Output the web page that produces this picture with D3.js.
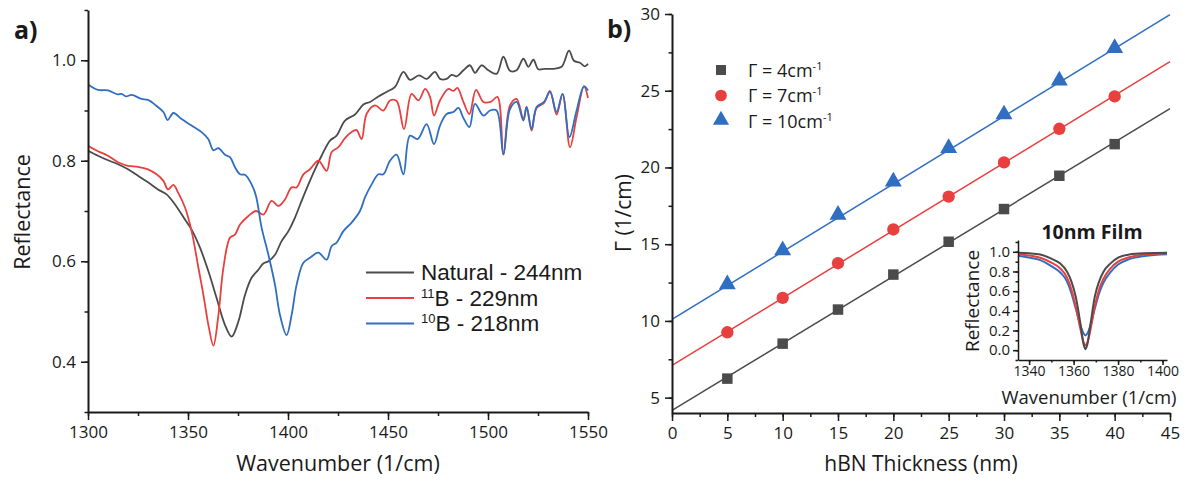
<!DOCTYPE html>
<html>
<head>
<meta charset="utf-8">
<script src="https://cdn.jsdelivr.net/npm/d3@7"></script>
<style>
  body { margin: 0; background: #fff; }
  text { font-family: "Open Sans", "Noto Sans", sans-serif; fill: #1a1a1a; }
  .axis path, .axis line { stroke: #1a1a1a; }
  .legendA { font-family: "Liberation Sans", Arial, sans-serif; }
</style>
</head>
<body>
<div class="chart"></div>
<script>
// ---- panel a data: reflectance spectra ----
var natWave = [1300,1305,1310,1315,1320,1325,1330,1335,1339.3,1343.5,1348.5,1351.8,1356,1360.2,1364.3,1368.5,1371.8,1375.2,1378.5,1381.8,1385.2,1387.5,1390.2,1393.5,1396.8,1400.2,1403.5,1406.8,1410.2,1413.5,1416.8,1421,1424.3,1428.5,1433.5,1437.7,1441,1445.2,1449.3,1453.5,1457.7,1461,1465.5,1469.3,1473.5,1476,1479.3,1481.8,1484.3,1487.7,1491,1493.5,1496.8,1500.2,1504.3,1507.7,1511,1514.3,1517.7,1520.2,1522.7,1525.2,1528.5,1532.7,1536.8,1540.5,1543,1546,1548.5,1550];
var natRefl = [0.82,0.81,0.801,0.793,0.783,0.77,0.757,0.743,0.733,0.713,0.683,0.663,0.627,0.58,0.527,0.473,0.45,0.48,0.533,0.567,0.583,0.595,0.60,0.613,0.64,0.66,0.687,0.72,0.753,0.783,0.81,0.84,0.85,0.88,0.892,0.912,0.917,0.928,0.937,0.947,0.977,0.961,0.97,0.963,0.977,0.963,0.963,0.971,0.968,0.98,0.99,0.975,0.99,0.98,0.973,1.007,0.979,0.98,1.003,0.987,1.001,0.982,0.983,0.983,0.987,1.019,0.999,0.995,0.988,0.993];

var b11Wave = [1300,1305,1310,1315,1320,1325,1330,1334.3,1337.7,1340,1342.7,1345,1348.5,1351.8,1355.2,1357.7,1360.2,1362.7,1365.2,1367.7,1371,1373.5,1376,1380.2,1384,1387.7,1391.8,1395.2,1398.5,1401.8,1404.3,1407.7,1411,1415.2,1419.3,1421.8,1425.2,1428.5,1431.8,1434.3,1436.8,1439.3,1443.5,1447.7,1451,1454.3,1458,1461.8,1465.2,1468.6,1471,1473,1476,1480.2,1482.7,1484.7,1487.7,1490.7,1494,1497.7,1501.3,1504.7,1507.7,1511,1514.3,1517.7,1519.3,1521.8,1524.3,1528,1531,1534.3,1537.3,1541,1544.3,1548,1550];
var b11Refl = [0.83,0.819,0.81,0.797,0.79,0.788,0.783,0.773,0.76,0.743,0.752,0.737,0.707,0.66,0.587,0.533,0.473,0.432,0.493,0.587,0.647,0.653,0.673,0.69,0.70,0.693,0.72,0.71,0.723,0.747,0.747,0.773,0.783,0.80,0.78,0.817,0.827,0.845,0.857,0.861,0.843,0.893,0.91,0.90,0.92,0.919,0.863,0.933,0.92,0.943,0.927,0.89,0.92,0.943,0.939,0.945,0.917,0.893,0.941,0.917,0.917,0.927,0.812,0.91,0.923,0.883,0.907,0.86,0.905,0.915,0.939,0.892,0.933,0.827,0.887,0.948,0.925];

var b10Wave = [1300,1305,1310,1314.7,1316.8,1319,1321.8,1326.8,1330,1334,1337.7,1339.8,1342.7,1346.8,1351.8,1356.8,1360.2,1362.7,1365.2,1368.5,1371,1373.5,1376,1378.5,1381.8,1384,1386.8,1390.2,1393.5,1396,1399.3,1401.8,1404.3,1407.7,1411,1415.2,1419.3,1421.8,1424.3,1427.7,1431.8,1436,1438.5,1441.8,1445.2,1447.7,1451,1454.3,1457.7,1461,1464.8,1469.3,1473,1476,1479.3,1482.7,1485.2,1487.7,1490.7,1493.5,1497.7,1501,1504.3,1507.7,1511,1514.3,1517.7,1519.3,1521.8,1524.3,1528,1531,1534.3,1537.3,1540.7,1544.3,1548,1550];
var b10Refl = [0.952,0.941,0.94,0.932,0.933,0.928,0.931,0.923,0.921,0.91,0.897,0.881,0.895,0.883,0.87,0.857,0.843,0.821,0.825,0.812,0.807,0.787,0.773,0.772,0.753,0.73,0.667,0.613,0.553,0.493,0.453,0.493,0.553,0.597,0.607,0.617,0.603,0.63,0.637,0.66,0.677,0.70,0.727,0.753,0.773,0.773,0.80,0.812,0.773,0.85,0.843,0.873,0.833,0.87,0.893,0.897,0.905,0.885,0.867,0.913,0.89,0.90,0.90,0.813,0.903,0.917,0.88,0.907,0.863,0.907,0.917,0.937,0.897,0.933,0.847,0.90,0.948,0.94];

var seriesNamesA = ["Natural - 244nm", "B - 229nm", "B - 218nm"];
var seriesSupA = ["", "11", "10"];
var xTicksA = [1300, 1350, 1400, 1450, 1500, 1550];
var yTicksA = [0.4, 0.6, 0.8, 1.0];

// ---- panel b data: damping vs thickness ----
var thickness = [5, 10, 15, 20, 25, 30, 35, 40];
var gamma4 = [6.24, 8.52, 10.74, 13.02, 15.16, 17.29, 19.46, 21.52];
var gamma7 = [9.26, 11.5, 13.76, 15.96, 18.1, 20.33, 22.52, 24.63];
var gamma10 = [12.32, 14.54, 16.85, 19.02, 21.2, 23.39, 25.6, 27.72];
var fitThickness = [0, 45];
var fit4 = [4.17, 23.83];
var fit7 = [7.1, 26.9];
var fit10 = [10.1, 29.96];
var legendB = ["4", "7", "10"];
var xTicksB = [0, 5, 10, 15, 20, 25, 30, 35, 40, 45];
var yTicksB = [5, 10, 15, 20, 25, 30];

// ---- inset data: 10nm film ----
var insetWave = [1335,1340,1345,1350,1354,1357,1359,1361,1363,1364.5,1365.3,1366.2,1367.7,1369.5,1371.5,1373.5,1376.5,1380,1385,1392,1402];
var insetGray = [0.99,0.985,0.972,0.93,0.88,0.8,0.7,0.54,0.28,0.06,0.01,0.06,0.28,0.54,0.7,0.8,0.88,0.94,0.972,0.985,0.99];
var insetRed = [0.975,0.962,0.94,0.89,0.83,0.74,0.62,0.44,0.22,0.08,0.05,0.08,0.22,0.44,0.62,0.73,0.83,0.9,0.945,0.972,0.985];
var insetBlue = [0.96,0.942,0.915,0.855,0.79,0.7,0.58,0.42,0.26,0.17,0.15,0.17,0.26,0.42,0.58,0.69,0.79,0.87,0.925,0.958,0.975];
var xTicksI = [1340, 1360, 1380, 1400];
var yTicksI = [0.0, 0.2, 0.4, 0.6, 0.8, 1.0];

var colors = ["#4b4b4b", "#e8403f", "#2f6ec0"];

var svgWidth = 1192;
var svgHeight = 483;

var svg = d3.select(".chart")
  .append("svg")
  .attr("width", svgWidth)
  .attr("height", svgHeight);

// helper: major + minor ticks
function drawAxis(axisFn, scale, major, minor, fmt, transform, size, pad, fontSize) {
  svg.append("g")
    .attr("class", "axis")
    .attr("transform", transform)
    .call(axisFn(scale).tickValues(minor).tickFormat("").tickSize(size / 2))
    .call(g => g.select(".domain").remove())
    .selectAll("line").attr("stroke-width", 1.5);
  var g = svg.append("g")
    .attr("class", "axis")
    .attr("transform", transform)
    .call(axisFn(scale).tickValues(major).tickFormat(fmt).tickSize(size).tickSizeOuter(0).tickPadding(pad));
  g.select(".domain").attr("stroke-width", 2);
  g.selectAll("line").attr("stroke-width", 1.5);
  g.selectAll("text").style("font-size", fontSize + "px").attr("fill", "#1a1a1a");
  return g;
}

// ================= panel a =================
var xA = d3.scaleLinear().domain([1300, 1550]).range([88, 588]);
var yA = d3.scaleLinear().domain([0.3, 1.1]).range([412, 10]);

svg.append("clipPath").attr("id", "clipA")
  .append("rect").attr("x", 88).attr("y", 10).attr("width", 503).attr("height", 402);

var lineA = d3.line().curve(d3.curveCatmullRom.alpha(0.5));
var specA = [[natWave, natRefl], [b11Wave, b11Refl], [b10Wave, b10Refl]];
specA.forEach(function(s, i) {
  var pts = s[0].map((w, j) => [xA(w), yA(s[1][j])]);
  svg.append("path")
    .attr("d", lineA(pts))
    .attr("fill", "none")
    .attr("stroke", colors[i])
    .attr("stroke-width", 1.8)
    .attr("clip-path", "url(#clipA)");
});

drawAxis(d3.axisBottom, xA, xTicksA, d3.range(1300, 1551, 25), d3.format("d"), "translate(0,412)", 8, 6, 17);
drawAxis(d3.axisLeft, yA, yTicksA, d3.range(3, 12).map(d => d / 10), d3.format(".1f"), "translate(88,0)", 7, 5, 17);

svg.append("text")
  .attr("x", 338).attr("y", 471)
  .attr("text-anchor", "middle")
  .style("font-size", "21.5px")
  .text("Wavenumber (1/cm)");

svg.append("text")
  .attr("transform", "translate(30,212) rotate(-90)")
  .attr("text-anchor", "middle")
  .style("font-size", "21.5px")
  .text("Reflectance");

svg.append("text")
  .attr("x", 14).attr("y", 39)
  .style("font-size", "25px").style("font-weight", "bold")
  .text("a)");

// legend a
seriesNamesA.forEach(function(name, i) {
  var ly = 272.5 + i * 25.5;
  svg.append("line")
    .attr("x1", 366).attr("x2", 414)
    .attr("y1", ly).attr("y2", ly)
    .attr("stroke", colors[i]).attr("stroke-width", 1.8);
  var t = svg.append("text")
    .attr("class", "legendA")
    .attr("x", 421).attr("y", ly + 7.5)
    .style("font-size", "22.5px");
  if (seriesSupA[i]) {
    t.append("tspan").attr("dy", -8).style("font-size", "13px").text(seriesSupA[i]);
    t.append("tspan").attr("dy", 8).text(name);
  } else {
    t.text(name);
  }
});

// ================= panel b =================
var xB = d3.scaleLinear().domain([0, 45]).range([672, 1170]);
var yB = d3.scaleLinear().domain([4, 30]).range([413, 14]);

var lineB = d3.line();
var fitsB = [fit4, fit7, fit10];
fitsB.forEach(function(f, i) {
  svg.append("path")
    .attr("d", lineB(fitThickness.map((t, j) => [xB(t), yB(f[j])])))
    .attr("fill", "none")
    .attr("stroke", colors[i])
    .attr("stroke-width", 1.5);
});

var symbols = [d3.symbolSquare, d3.symbolCircle, d3.symbolTriangle];
var symSizes = [110, 120, 125];
var gammaB = [gamma4, gamma7, gamma10];
gammaB.forEach(function(vals, i) {
  svg.append("g").selectAll("path")
    .data(vals)
    .enter()
    .append("path")
    .attr("d", d3.symbol().type(symbols[i]).size(symSizes[i]))
    .attr("transform", (d, j) => `translate(${xB(thickness[j])},${yB(d) + (i == 2 ? -1 : 0)})`)
    .attr("fill", colors[i]);
});

drawAxis(d3.axisBottom, xB, xTicksB, d3.range(0, 45.1, 2.5), d3.format("d"), "translate(0,413)", 8, 6, 17);
drawAxis(d3.axisLeft, yB, yTicksB, d3.range(5, 30.1, 2.5), d3.format("d"), "translate(672,0)", 7, 5, 17);

svg.append("text")
  .attr("x", 921).attr("y", 471)
  .attr("text-anchor", "middle")
  .style("font-size", "21px")
  .text("hBN Thickness (nm)");

svg.append("text")
  .attr("transform", "translate(631,213) rotate(-90)")
  .attr("text-anchor", "middle")
  .style("font-size", "21px")
  .text("Γ (1/cm)");

svg.append("text")
  .attr("x", 607).attr("y", 38)
  .style("font-size", "25px").style("font-weight", "bold")
  .text("b)");

// legend b
legendB.forEach(function(g, i) {
  var ly = 70 + i * 25.5;
  svg.append("path")
    .attr("d", d3.symbol().type(symbols[i]).size(symSizes[i] * 0.9))
    .attr("transform", `translate(721,${ly + (i == 2 ? -1 : 0)})`)
    .attr("fill", colors[i]);
  var t = svg.append("text")
    .attr("x", 748).attr("y", ly + 6.5)
    .style("font-size", "18px");
  t.append("tspan").text("Γ = " + g + "cm");
  t.append("tspan").attr("dy", -7).style("font-size", "11px").text("-1");
});

// ================= inset =================
var xI = d3.scaleLinear().domain([1335, 1402]).range([1018, 1167]);
var yI = d3.scaleLinear().domain([-0.1, 1.12]).range([360, 240]);

var lineI = d3.line().curve(d3.curveMonotoneX);
[insetGray, insetRed, insetBlue].reverse().forEach(function(vals, k) {
  var i = 2 - k;
  svg.append("path")
    .attr("d", lineI(insetWave.map((w, j) => [xI(w), yI(vals[j])])))
    .attr("fill", "none")
    .attr("stroke", colors[i])
    .attr("stroke-width", 2);
});

var gxI = drawAxis(d3.axisBottom, xI, xTicksI, d3.range(1340, 1401, 10), d3.format("d"), "translate(0,360)", 5, 1, 14);
var gyI = drawAxis(d3.axisLeft, yI, yTicksI, d3.range(-0.1, 1.11, 0.1).map(d => +d.toFixed(1)), d3.format(".1f"), "translate(1018,0)", 5, 3, 15);
gxI.select(".domain").attr("stroke-width", 1.5);
gyI.select(".domain").attr("stroke-width", 1.5);

svg.append("text")
  .attr("x", 1092).attr("y", 239)
  .attr("text-anchor", "middle")
  .style("font-size", "19.5px").style("font-weight", "bold")
  .text("10nm Film");

svg.append("text")
  .attr("transform", "translate(979,301) rotate(-90)")
  .attr("text-anchor", "middle")
  .style("font-size", "19px")
  .text("Reflectance");

svg.append("text")
  .attr("x", 1089).attr("y", 404)
  .attr("text-anchor", "middle")
  .style("font-size", "18.5px")
  .text("Wavenumber (1/cm)");
</script>
</body>
</html>
